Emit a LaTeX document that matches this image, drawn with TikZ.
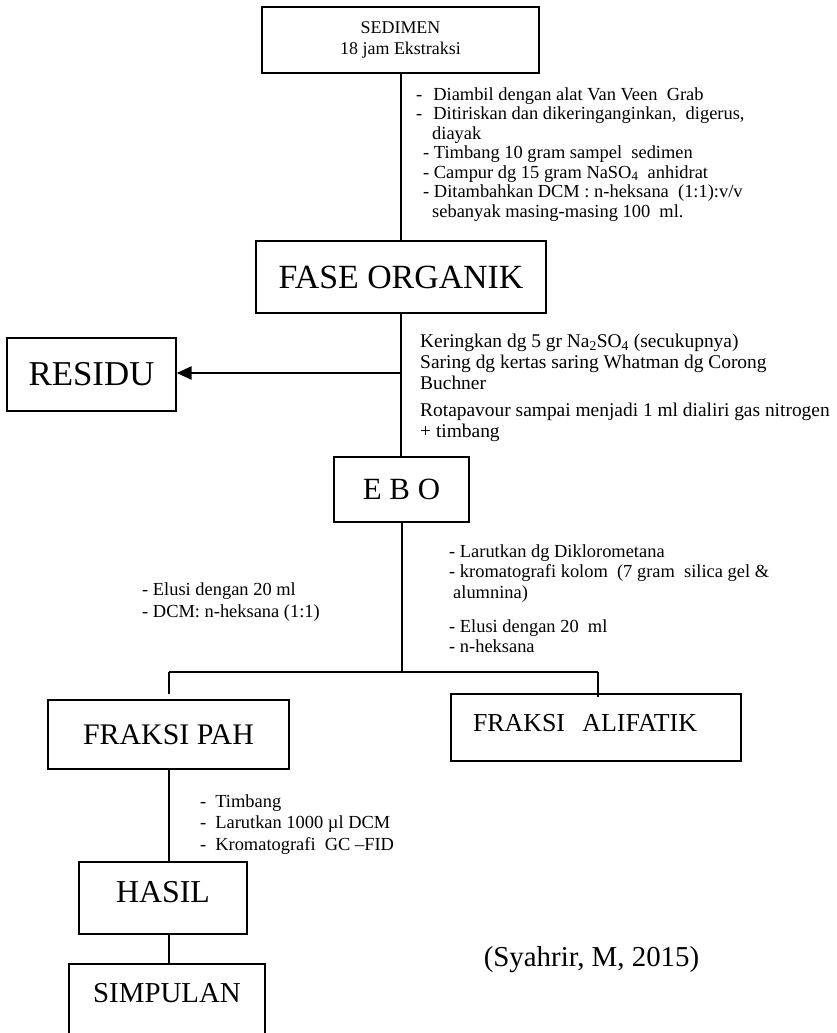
\documentclass[tikz,border=0pt]{standalone}
\usepackage{fontspec}
\setmainfont{Liberation Serif}
\usetikzlibrary{arrows.meta}

\newcommand{\fs}[2]{\fontsize{#1}{#2}\selectfont}

\begin{document}
\begin{tikzpicture}
[
	x=1bp, y=-1bp,
	box/.style = {draw, line width=1.3bp, inner sep=0pt, align=center},
	note/.style = {align=left, anchor=north west, inner sep=0pt},
	link/.style = {line width=2bp},
	flow/.style = {line width=2.6bp, -{Triangle[length=15bp,width=13bp]}},
]
\clip (0,0) rectangle (837,1033);

\node[box, minimum width=277bp, minimum height=66bp, font=\fs{18}{22}] (sedimen) at (400.5,40) {SEDIMEN\\18 jam Ekstraksi};
\node[box, minimum width=290bp, minimum height=72bp, font=\fs{34}{40}] (fase) at (401,277) {FASE ORGANIK};
\node[box, minimum width=169bp, minimum height=73bp, font=\fs{35}{40}] (residu) at (91.5,374.5) {RESIDU};
\node[box, minimum width=135bp, minimum height=65bp, font=\fs{31}{36}] (ebo) at (401.5,489.5) {E B O};
\node[box, minimum width=241bp, minimum height=69bp, font=\fs{30}{36}] (pah) at (168.5,734.5) {FRAKSI PAH};
\node[box, align=left, text width=246bp, inner xsep=22bp, text height=37bp, text depth=30bp, font=\fs{26}{30}] (alifatik) at (596,727.5) {FRAKSI~~ALIFATIK};
\node[box, minimum width=168bp, text height=40.5bp, text depth=31.5bp, font=\fs{32}{38}] (hasil) at (163,898) {HASIL};
\node[box, minimum width=196bp, text height=38.5bp, text depth=42.5bp, font=\fs{29}{34}] (simpulan) at (167,1004.5) {SIMPULAN};
\node[font=\fs{29}{34}] (sumber) at (591.5,960) {(Syahrir, M, 2015)};

\node[note, font=\fs{18.5}{19.5}] (langkah1) at (416,87.5) {-\hspace{11bp}Diambil dengan alat Van Veen~~Grab\\
-\hspace{11bp}Ditiriskan dan dikeringanginkan,~~digerus,\\
\hspace*{16bp}diayak\\
\hspace*{7bp}- Timbang 10 gram sampel~~sedimen\\
\hspace*{7bp}- Campur dg 15 gram NaSO\textsubscript{4}~~anhidrat\\
\hspace*{7bp}- Ditambahkan DCM : n-heksana~~(1:1):v/v\\
\hspace*{16bp}sebanyak masing-masing 100~~ml.};
\node[note, font=\fs{19.5}{21}] (langkah2) at (420,333.5) {Keringkan dg 5 gr Na\textsubscript{2}SO\textsubscript{4} (secukupnya)\\
Saring dg kertas saring Whatman dg Corong\\
Buchner\\[7bp]
Rotapavour sampai menjadi 1 ml dialiri gas nitrogen\\
+ timbang};
\node[note, font=\fs{18.5}{22}] (elusi) at (142,582.5) {- Elusi dengan 20 ml\\- DCM: n-heksana (1:1)};
\node[note, font=\fs{18.5}{20.5}] (langkah3) at (449,544.5) {- Larutkan dg Diklorometana\\
- kromatografi kolom~~(7 gram~~silica gel \&\\
\hspace*{4bp}alumnina)\\[13.5bp]
- Elusi dengan 20~~ml\\
- n-heksana};
\node[note, font=\fs{18.5}{21.5}] (langkah4) at (200,794.5) {-\hspace{9bp}Timbang\\
-\hspace{9bp}Larutkan 1000 µl DCM\\
-\hspace{9bp}Kromatografi~~GC –FID};

\coordinate (tap) at (400,373);
\coordinate (fork) at (400,672);
\coordinate (forkL) at (169,672);
\coordinate (forkR) at (598,672);

\draw[link] (sedimen.south) -- (sedimen.south |- fase.north);
\draw[link] (fase.south) -- (fase.south |- ebo.north);
\draw[flow] (tap) -- (tap -| residu.east);
\draw[link] (ebo.south) -- (ebo.south |- fork);
\draw[link] (forkL) -- (forkR);
\draw[link] (forkL) -- ++(0,22);
\draw[link] (forkR) -- ++(0,25);
\draw[link] (pah.south) -- (pah.south |- hasil.north);
\draw[link] (hasil.south -| pah.south) -- (simpulan.north -| pah.south);
\end{tikzpicture}
\end{document}
